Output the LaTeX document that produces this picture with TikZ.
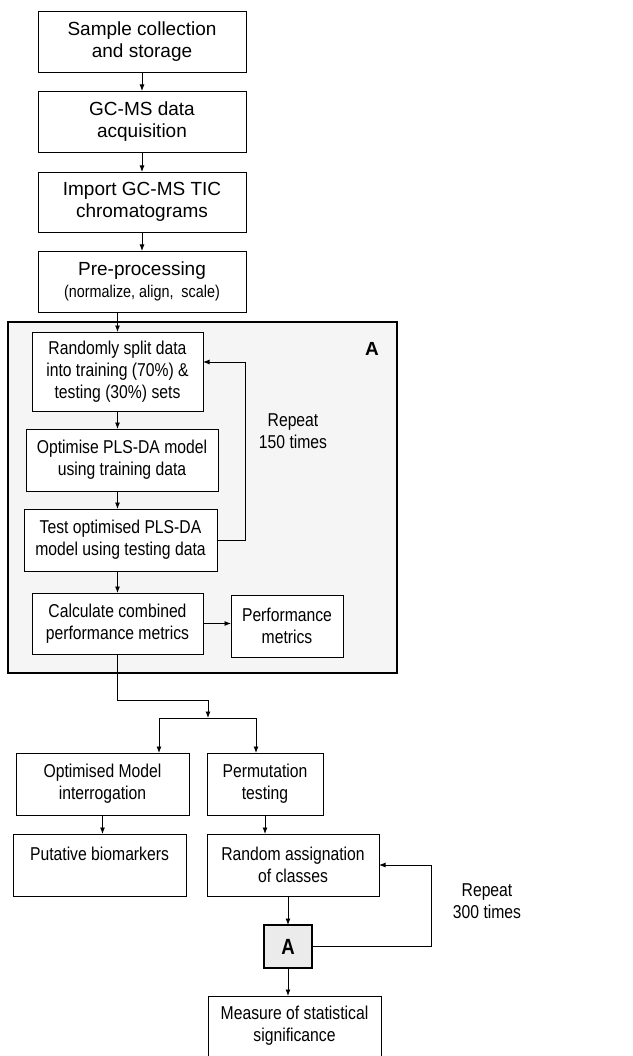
\documentclass[tikz,border=0pt]{standalone}
\usepackage{fontspec}
\setmainfont{Liberation Sans}
\newfontfamily\condfont{Liberation Sans}[FakeStretch=0.845]
\usepackage{tikz}
\usetikzlibrary{arrows.meta}

\begin{document}
\begin{tikzpicture}[x=1pt, y=-1pt, main/.style={draw, fill=white, line width=0.9pt, align=center, inner sep=2pt, outer sep=0pt, font=\condfont\fontsize{18.6}{22}\selectfont}, top/.style={main, font=\fontsize{19}{22}\selectfont}, frame/.style={draw, line width=2.6pt, fill=gray!8}, txt/.style={align=center, font=\condfont\fontsize{18.6}{22}\selectfont}, n/.style={-{Latex[length=6.5pt, width=5pt]}, line width=0.9pt}, e/.style={line width=0.9pt}]
            \useasboundingbox (0,0) rectangle (632,1056);
            % frame
            \node[frame, minimum width=389, minimum height=351] (boxA) at (202.5,497.5) {};
            \node[font=\bfseries\fontsize{19}{22}\selectfont] (lblA) at (372,349) {A};
            % nodes
            \node[top, minimum width=208, minimum height=61] (samp) at (142,41.5) {Sample collection\\and storage};
            \node[top, minimum width=208, minimum height=61] (gcms) at (142,121.5) {GC-MS data\\acquisition};
            \node[top, minimum width=208, minimum height=60] (imp) at (142,202) {Import GC-MS TIC\\chromatograms};
            \node[top, minimum width=208, minimum height=61] (pre) at (142,281.5) {Pre-processing\\{\condfont\fontsize{17}{22}\selectfont(normalize, align,\ \ scale)}};
            \node[main, minimum width=171, minimum height=79] (split) at (117.5,371.5) {Randomly split data\\into training (70\%) \&\\testing (30\%) sets};
            \node[main, minimum width=192, minimum height=62] (opt) at (122,460) {Optimise PLS-DA model\\using training data};
            \node[main, minimum width=193, minimum height=62] (test) at (120.5,540) {Test optimised PLS-DA\\model using testing data};
            \node[main, minimum width=171, minimum height=61] (calc) at (117.5,623.5) {Calculate combined\\performance metrics};
            \node[main, minimum width=112, minimum height=62] (perf) at (287,626) {Performance\\metrics};
            \node[txt] (rep1) at (293,431) {Repeat\\150 times};
            \node[main, minimum width=173, minimum height=62] (omi) at (102.5,784) {Optimised Model\\interrogation};
            \node[main, minimum width=116, minimum height=62] (perm) at (265,784) {Permutation\\testing};
            \node[main, minimum width=173, minimum height=62] (puta) at (99.5,865) {Putative biomarkers\\~};
            \node[main, minimum width=172, minimum height=62] (rand) at (293,865) {Random assignation\\of classes};
            \node[main, line width=2.6pt, fill=gray!16, minimum width=48, minimum height=43, font=\condfont\bfseries\fontsize{22}{22}\selectfont] (Asmall) at (288,946.5) {A};
            \node[main, minimum width=173, minimum height=90] (meas) at (294.5,1041) {Measure of statistical\\significance\\[12pt]~};
            \node[txt] (rep2) at (487,901) {Repeat\\300 times};
            \coordinate (bend) at (208,700);
            \coordinate (fork) at (208,718);
            % edges
            \draw [n] (samp.south) -- (gcms.north);
            \draw [n] (gcms.south) -- (imp.north);
            \draw [n] (imp.south) -- (pre.north);
            \draw [n] (pre.south -| split) -- (split.north);
            \draw [n] (split.south) -- (split.south |- opt.north);
            \draw [n] (opt.south -| split) -- (split |- test.north);
            \draw [n] (test.south -| split) -- (calc.north);
            \draw [n] (calc.east) -- (calc.east -| perf.west);
            \draw [n] (test.east) -- ++(28,0) |- ([yshift=9.5pt]split.east);
            \draw [e] (calc.south) |- (bend);
            \draw [n] (bend) -- (fork);
            \draw [n] (fork) -| ([xshift=56.5pt]omi.north);
            \draw [n] (fork) -| ([xshift=-9pt]perm.north);
            \draw [n] (omi.south) -- (omi.south |- puta.north);
            \draw [n] (perm.south) -- (perm.south |- rand.north);
            \draw [n] (rand.south -| Asmall) -- (Asmall.north);
            \draw [n] (Asmall.south) -- (Asmall.south |- meas.north);
            \draw [n] (Asmall.east) -- ++(119,0) |- (rand.east);
        \end{tikzpicture}
\end{document}
